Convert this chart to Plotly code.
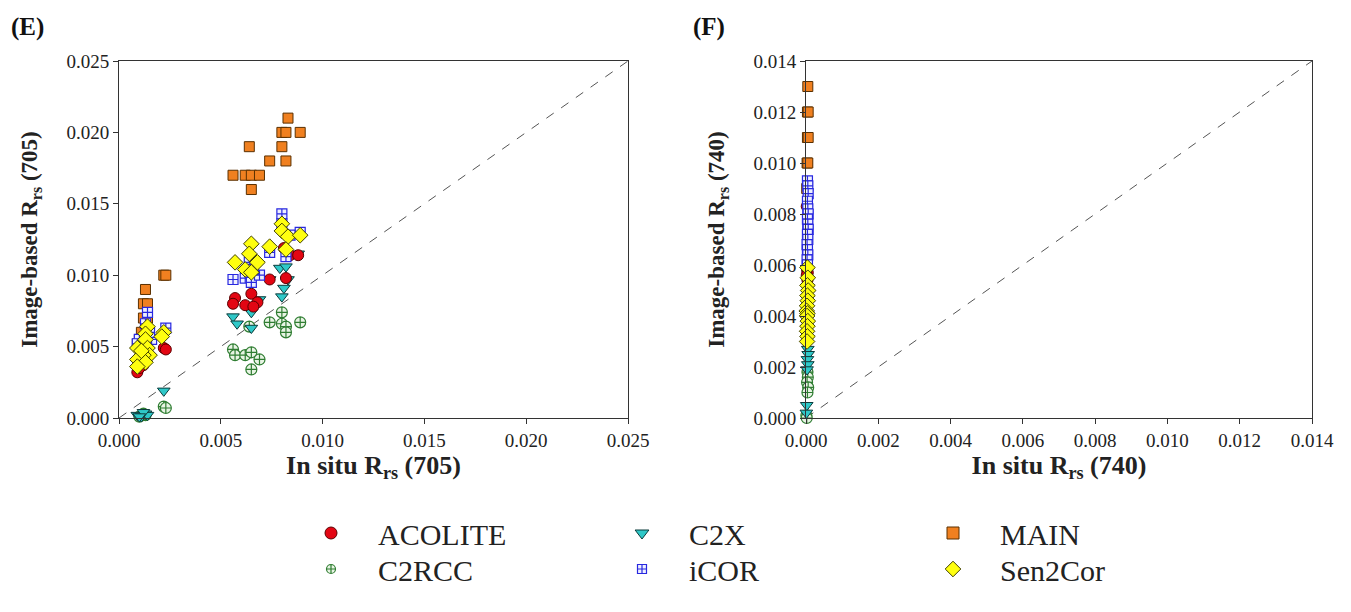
import plotly.graph_objects as go

# ---------------- Data: panel (E) 705 nm ----------------
acolite_705_x = [0.0022, 0.0023, 0.0009, 0.0011, 0.0012, 0.0010,
                 0.0081, 0.0084, 0.0082, 0.0074, 0.0057, 0.0056, 0.0065, 0.0062, 0.0068, 0.0066, 0.0088]
acolite_705_y = [0.0049, 0.0048, 0.0032, 0.0040, 0.0037, 0.0035,
                 0.0119, 0.0114, 0.0098, 0.0097, 0.0084, 0.0080, 0.0087, 0.0079, 0.0081, 0.0078, 0.0114]

c2rcc_705_x = [0.0022, 0.0023, 0.0013, 0.0010, 0.0012,
               0.0080, 0.0074, 0.0080, 0.0082, 0.0089, 0.0082, 0.0064, 0.0056, 0.0057, 0.0062, 0.0065, 0.0069, 0.0065]
c2rcc_705_y = [0.0008, 0.0007, 0.0002, 0.0001, 0.0003,
               0.0074, 0.0067, 0.0066, 0.0064, 0.0067, 0.0060, 0.0064, 0.0048, 0.0044, 0.0044, 0.0046, 0.0041, 0.0034]

c2x_705_x = [0.0022, 0.0009, 0.0011, 0.0013, 0.0014, 0.0012, 0.0010,
             0.0088, 0.0079, 0.0082, 0.0074, 0.0083, 0.0081, 0.0080, 0.0069, 0.0065, 0.0056, 0.0058, 0.0065]
c2x_705_y = [0.0019, 0.0002, 0.0001, 0.0003, 0.0002, 0.0004, 0.0001,
             0.0115, 0.0105, 0.0106, 0.0097, 0.0097, 0.0091, 0.0085, 0.0083, 0.0074, 0.0071, 0.0066, 0.0063]

icor_705_x = [0.0014, 0.0023, 0.0010, 0.0016, 0.0011, 0.0015, 0.0009, 0.0013,
              0.0080, 0.0080, 0.0089, 0.0084, 0.0074, 0.0064, 0.0082, 0.0056, 0.0062, 0.0065, 0.0069, 0.0066]
icor_705_y = [0.0074, 0.0063, 0.0055, 0.0055, 0.0045, 0.0060, 0.0052, 0.0066,
              0.0143, 0.0136, 0.0130, 0.0128, 0.0116, 0.0109, 0.0113, 0.0097, 0.0098, 0.0095, 0.0100, 0.0104]

main_705_x = [0.0009, 0.0010, 0.0011, 0.0012, 0.0014, 0.0012, 0.0014, 0.0013, 0.0022, 0.0023,
              0.0056, 0.0062, 0.0065, 0.0069, 0.0065, 0.0064, 0.0074, 0.0082, 0.0080, 0.0080, 0.0082, 0.0089, 0.0083]
main_705_y = [0.0052, 0.0055, 0.0060, 0.0070, 0.0070, 0.0080, 0.0080, 0.0090, 0.0100, 0.0100,
              0.0170, 0.0170, 0.0170, 0.0170, 0.0160, 0.0190, 0.0180, 0.0180, 0.0190, 0.0200, 0.0200, 0.0200, 0.0210]

sen2cor_705_x = [0.0014, 0.0022, 0.0013, 0.0013, 0.0009, 0.0014, 0.0015, 0.0012, 0.0009, 0.0013, 0.0009, 0.0011, 0.0021,
                 0.0080, 0.0080, 0.0083, 0.0089, 0.0082, 0.0074, 0.0065, 0.0064, 0.0068, 0.0057, 0.0062, 0.0065]
sen2cor_705_y = [0.0064, 0.0060, 0.0059, 0.0055, 0.0049, 0.0049, 0.0044, 0.0044, 0.0041, 0.0039, 0.0036, 0.0047, 0.0057,
                 0.0136, 0.0131, 0.0127, 0.0128, 0.0118, 0.0120, 0.0122, 0.0115, 0.0109, 0.0109, 0.0104, 0.0102]

# ---------------- Data: panel (F) 740 nm ----------------
acolite_740_x = [0.00002, 0.00003, 0.00005, 0.00002, 0.00004]
acolite_740_y = [0.0083, 0.0058, 0.0057, 0.0056, 0.0054]

c2rcc_740_x = [0.00004, 0.00005, 0.00003, 0.00006, 0.00004, 0.00001, 0.00002]
c2rcc_740_y = [0.0018, 0.0016, 0.0014, 0.0012, 0.0010, 0.0001, 0.0000]

c2x_740_x = [0.00005, 0.00006, 0.00004, 0.00005, 0.00003, 0.00002, 0.00001]
c2x_740_y = [0.0027, 0.0025, 0.0023, 0.0021, 0.0019, 0.0005, 0.0002]

icor_740_x = [0.00004, 0.00005, 0.00006, 0.00004, 0.00005, 0.00006, 0.00004, 0.00005,
              0.00006, 0.00004, 0.00005, 0.00003, 0.00004, 0.00005, 0.00003, 0.00004]
icor_740_y = [0.0093, 0.0091, 0.0088, 0.0085, 0.0082, 0.0080, 0.0078, 0.0076,
              0.0074, 0.0072, 0.0070, 0.0068, 0.0066, 0.0064, 0.0062, 0.0060]

main_740_x = [0.00005, 0.00004, 0.00006, 0.00004, 0.00006, 0.00003, 0.00005, 0.00002]
main_740_y = [0.0130, 0.0120, 0.0120, 0.0110, 0.0110, 0.0100, 0.0100, 0.0090]

sen2cor_740_x = [0.00004, 0.00005, 0.00004, 0.00006, 0.00004, 0.00005, 0.00003, 0.00002,
                 0.00004, 0.00003, 0.00005, 0.00004, 0.00003, 0.00004, 0.00003]
sen2cor_740_y = [0.0059, 0.0055, 0.0052, 0.0050, 0.0048, 0.0046, 0.0044, 0.0042,
                 0.0041, 0.0040, 0.0038, 0.0036, 0.0034, 0.0032, 0.0030]

series_names = ["ACOLITE", "C2RCC", "C2X", "iCOR", "MAIN", "Sen2Cor"]
panel_e = {
    "ACOLITE": (acolite_705_x, acolite_705_y),
    "C2RCC": (c2rcc_705_x, c2rcc_705_y),
    "C2X": (c2x_705_x, c2x_705_y),
    "iCOR": (icor_705_x, icor_705_y),
    "MAIN": (main_705_x, main_705_y),
    "Sen2Cor": (sen2cor_705_x, sen2cor_705_y),
}
panel_f = {
    "ACOLITE": (acolite_740_x, acolite_740_y),
    "C2RCC": (c2rcc_740_x, c2rcc_740_y),
    "C2X": (c2x_740_x, c2x_740_y),
    "iCOR": (icor_740_x, icor_740_y),
    "MAIN": (main_740_x, main_740_y),
    "Sen2Cor": (sen2cor_740_x, sen2cor_740_y),
}

range_e = [0, 0.025]
range_f = [0, 0.014]

styles = {
    "ACOLITE": dict(symbol="circle", color="#e30613", line=dict(color="#5a0000", width=1), size=11),
    "C2RCC": dict(symbol="circle-cross", color="#e8f4e4", line=dict(color="#2f7d32", width=1.2), size=11),
    "C2X": dict(symbol="triangle-down", color="#2fc8c8", line=dict(color="#0b3b3b", width=1), size=11),
    "iCOR": dict(symbol="square-cross", color="#eef0ff", line=dict(color="#2828e0", width=1.2), size=10),
    "MAIN": dict(symbol="square", color="#f08020", line=dict(color="#5a3000", width=1), size=10),
    "Sen2Cor": dict(symbol="diamond", color="#ffff10", line=dict(color="#404000", width=1), size=12),
}
legend_of = {"ACOLITE": "legend", "C2X": "legend", "MAIN": "legend",
             "C2RCC": "legend2", "iCOR": "legend2", "Sen2Cor": "legend2"}
legend_order = ["ACOLITE", "C2X", "MAIN", "C2RCC", "iCOR", "Sen2Cor"]
draw_order = ["C2RCC", "C2X", "ACOLITE", "MAIN", "iCOR", "Sen2Cor"]

FONT = "Liberation Serif"
fig = go.Figure()

# 1:1 lines
fig.add_trace(go.Scatter(x=range_e, y=range_e, mode="lines", xaxis="x", yaxis="y",
                         line=dict(color="#555555", width=1, dash="dash"), showlegend=False, hoverinfo="skip"))
fig.add_trace(go.Scatter(x=range_f, y=range_f, mode="lines", xaxis="x2", yaxis="y2",
                         line=dict(color="#555555", width=1, dash="dash"), showlegend=False, hoverinfo="skip"))

# legend-only entries in desired order (rank)
for i, name in enumerate(legend_order):
    st = styles[name]
    lsize = 9 if name in ("C2RCC", "iCOR") else 12
    fig.add_trace(go.Scatter(x=[None], y=[None], mode="markers", name=name,
                             marker=dict(symbol=st["symbol"], color=st["color"], line=st["line"], size=lsize),
                             legend=legend_of[name], legendrank=i, showlegend=True, xaxis="x", yaxis="y"))

for name in draw_order:
    st = styles[name]
    mk = dict(symbol=st["symbol"], color=st["color"], line=st["line"], size=st["size"])
    ex, ey = panel_e[name]
    fx, fy = panel_f[name]
    fig.add_trace(go.Scatter(x=ex, y=ey, mode="markers", marker=mk, showlegend=False,
                             xaxis="x", yaxis="y", cliponaxis=False, name=name))
    fig.add_trace(go.Scatter(x=fx, y=fy, mode="markers", marker=mk, showlegend=False,
                             xaxis="x2", yaxis="y2", cliponaxis=False, name=name))

ax_common = dict(showline=True, linecolor="#333333", linewidth=1, mirror=True, ticks="outside",
                 ticklen=5, tickcolor="#333333", showgrid=False, zeroline=False, automargin=False,
                 tickfont=dict(family=FONT, size=19, color="#222222"), tickformat=".3f")
xtitle_font = dict(family=FONT, size=26, color="#222222")
ytitle_font = dict(family=FONT, size=23, color="#222222")

leg_common = dict(orientation="h", xanchor="left", yanchor="middle",
                  entrywidth=212, entrywidthmode="pixels", itemwidth=84,
                  font=dict(family=FONT, size=30, color="#222222"), bgcolor="rgba(0,0,0,0)")

H = 612.0
W = 1351.0
OFF = 8  # page body margin offset

fig.update_layout(
    width=1351, height=612,
    margin=dict(l=0, r=0, t=0, b=0),
    paper_bgcolor="white", plot_bgcolor="white",
    xaxis=dict(domain=[(119-OFF)/W, (628-OFF)/W], range=range_e, dtick=0.005, anchor="y",
               title=dict(text="<b>In situ R<sub>rs</sub> (705)</b>", font=xtitle_font, standoff=5), **ax_common),
    yaxis=dict(domain=[1-(418-OFF)/H, 1-(61-OFF)/H], range=range_e, dtick=0.005, anchor="x",
               title=dict(text="<b>Image-based R<sub>rs</sub> (705)</b>", font=ytitle_font, standoff=22), **ax_common),
    xaxis2=dict(domain=[(806-OFF)/W, (1312-OFF)/W], range=range_f, dtick=0.002, anchor="y2",
                title=dict(text="<b>In situ R<sub>rs</sub> (740)</b>", font=xtitle_font, standoff=5), **ax_common),
    yaxis2=dict(domain=[1-(418-OFF)/H, 1-(61-OFF)/H], range=range_f, dtick=0.002, anchor="x2",
                title=dict(text="<b>Image-based R<sub>rs</sub> (740)</b>", font=ytitle_font, standoff=22), **ax_common),
    legend=dict(x=276/W, y=1-525/H, **leg_common),
    legend2=dict(x=276/W, y=1-561/H, **leg_common),
    annotations=[
        dict(text="<b>(E)</b>", x=1/W, y=1-(27-OFF)/H, xref="paper", yref="paper", xanchor="left",
             yanchor="middle", showarrow=False, font=dict(family=FONT, size=25, color="#111111")),
        dict(text="<b>(F)</b>", x=683/W, y=1-(27-OFF)/H, xref="paper", yref="paper", xanchor="left",
             yanchor="middle", showarrow=False, font=dict(family=FONT, size=25, color="#111111")),
    ],
)

fig.write_html("out.html")
